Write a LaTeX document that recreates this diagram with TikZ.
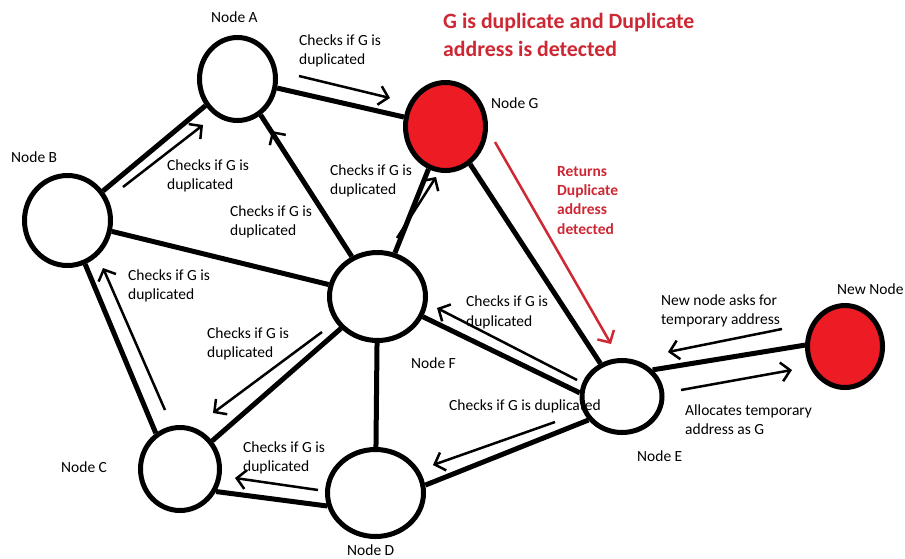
\documentclass[tikz,border=0pt]{standalone}
\usepackage{fontspec}
\setmainfont{Carlito}
\usetikzlibrary{arrows.meta,shapes.geometric}
\definecolor{nodered}{RGB}{237,28,36}
\definecolor{txtred}{RGB}{205,40,52}
\tikzset{
  nd/.style={ellipse, draw, line width=5pt, fill=white, inner sep=0pt},
  link/.style={line width=5pt},
  msg/.style={line width=2.5pt, -{Straight Barb[length=9pt,width=19pt]}},
  lbl/.style={font=\fontsize{15.5}{19.5}\selectfont, inner sep=0pt, anchor=base west, align=left},
  redlbl/.style={lbl, text=txtred, font=\bfseries\fontsize{15.5}{19.3}\selectfont},
  title/.style={lbl, text=txtred, font=\bfseries\fontsize{21.8}{28}\selectfont}
}
\begin{document}
\begin{tikzpicture}[x=1pt,y=-1pt]
\useasboundingbox[fill=white] (0,0) rectangle (905,558);
% nodes
\node[nd, minimum width=76pt, minimum height=83pt] (A) at (237.5,79) {};
\node[nd, fill=nodered, minimum width=80pt, minimum height=88pt] (G) at (445.5,126.5) {};
\node[nd, minimum width=86pt, minimum height=90pt] (B) at (67.5,220.5) {};
\node[nd, minimum width=96pt, minimum height=88pt] (F) at (377.5,296.5) {};
\node[nd, minimum width=80pt, minimum height=72pt] (E) at (622,396.5) {};
\node[nd, fill=nodered, minimum width=75pt, minimum height=82pt] (N) at (845,346.5) {};
\node[nd, minimum width=79pt, minimum height=83pt] (C) at (180,469) {};
\node[nd, minimum width=96pt, minimum height=87pt] (D) at (375.5,493) {};
% links
\draw[link] (A) -- (B);
\draw[link] (A) -- (G);
\draw[link] (A) -- (F);
\draw[link] (B) -- (F);
\draw[link] (B.-68) -- (C.124);
\draw[link] (C) -- (F);
\draw[link] (C.-32) -- (D.195);
\draw[link] (D) -- (F);
\draw[link] (D.9) -- (E.215);
\draw[link] (F.-24) -- (E.175);
\draw[link] (F) -- (G);
\draw[link] (G) -- (E);
\draw[link] (E.41) -- (N.178);
% message arrow end points
\coordinate (a1) at (299,76);  \coordinate (a2) at (390,98);
\coordinate (b1) at (123,187); \coordinate (b2) at (203,125);
\coordinate (c1) at (342,240); \coordinate (c2) at (272,131);
\coordinate (d1) at (397,238); \coordinate (d2) at (436,177);
\coordinate (e1) at (165,410); \coordinate (e2) at (103,268);
\coordinate (f1) at (322,332); \coordinate (f2) at (213,413);
\coordinate (g1) at (318,490); \coordinate (g2) at (235,478);
\coordinate (h1) at (555,422); \coordinate (h2) at (433,465);
\coordinate (i1) at (577,380); \coordinate (i2) at (437,308);
\coordinate (j1) at (495,142); \coordinate (j2) at (611,344);
\coordinate (k1) at (782,329); \coordinate (k2) at (668,352);
\coordinate (l1) at (681,390); \coordinate (l2) at (792,370);
\draw[msg] (a1) -- (a2);
\draw[msg] (b1) -- (b2);
\draw[msg] (c1) -- (c2);
\draw[msg] (d1) -- (d2);
\draw[msg] (e1) -- (e2);
\draw[msg] (f1) -- (f2);
\draw[msg] (g1) -- (g2);
\draw[msg] (h1) -- (h2);
\draw[msg] (i1) -- (i2);
\draw[msg, draw=txtred] (j1) -- (j2);
\draw[msg] (k1) -- (k2);
\draw[msg] (l1) -- (l2);
% labels (anchor = baseline of last line)
\node[lbl] (tA) at (211,22) {Node A};
\node[lbl] (tG) at (491,108) {Node G};
\node[lbl] (tB) at (11,162) {Node B};
\node[lbl] (tF) at (411,368) {Node F};
\node[lbl] (tN) at (837,294) {New Node};
\node[lbl] (tE) at (637,461) {Node E};
\node[lbl] (tC) at (61,472) {Node C};
\node[lbl] (tD) at (347,555) {Node D};
\node[lbl] (m1) at (299,64.5) {Checks if G is\\duplicated};
\node[lbl] (m2) at (167,189.5) {Checks if G is\\duplicated};
\node[lbl] (m3) at (230,235.5) {Checks if G is\\duplicated};
\node[lbl] (m4) at (330,194.5) {Checks if G is\\duplicated};
\node[lbl] (m5) at (128,299.5) {Checks if G is\\duplicated};
\node[lbl] (m6) at (207,357.5) {Checks if G is\\duplicated};
\node[lbl] (m7) at (466,326) {Checks if G is\\duplicated};
\node[lbl] (m8) at (243,471.5) {Checks if G is\\duplicated};
\node[lbl] (m9) at (449,410) {Checks if G is duplicated};
\node[lbl] (m10) at (661,324.5) {New node asks for\\temporary address};
\node[lbl] (m11) at (685,434.5) {Allocates temporary\\address as G};
\node[redlbl] (r1) at (557,234) {Returns\\Duplicate\\address\\detected};
\node[title] (tt) at (443,56) {G is duplicate and Duplicate\\address is detected};
\end{tikzpicture}
\end{document}
